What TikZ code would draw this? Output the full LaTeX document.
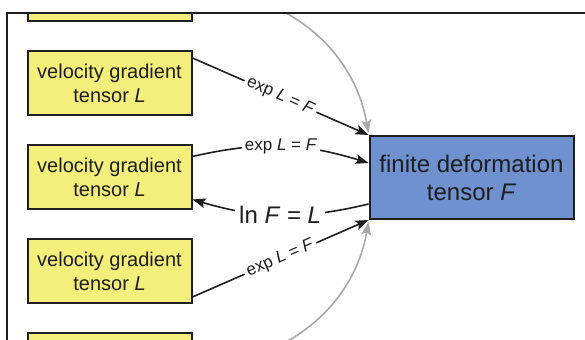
\documentclass[tikz,border=0pt]{standalone}
\usepackage{fontspec}
\setmainfont{Liberation Sans}
\usetikzlibrary{positioning,arrows.meta}

\definecolor{amarilloTensor}{RGB}{243,239,122}
\definecolor{azulTensor}{RGB}{111,145,208}
\definecolor{grisFlecha}{RGB}{168,168,168}
\definecolor{tinta}{RGB}{30,30,30}

\begin{document}
\begin{tikzpicture}[x=0.5pt, y=0.5pt, node distance=14pt, line width=0.8pt, >={Stealth[length=6.5pt,width=4.8pt,inset=1.2pt]}]
        % Definición de estilos
        \tikzstyle{nodoVelocidad} = [draw=tinta, line width=1pt, rectangle, fill=amarilloTensor, minimum width=82pt, minimum height=32pt, align=center, text=tinta, font=\fontsize{10}{12}\selectfont]
        \tikzstyle{nodoDeformacion} = [draw=tinta, line width=1pt, rectangle, fill=azulTensor, minimum width=102pt, minimum height=41.5pt, align=center, text=tinta, font=\fontsize{12}{14}\selectfont]
        \tikzstyle{etiquetaExp} = [fill=white, inner sep=1.5pt, text=tinta, font=\fontsize{8.5}{9.5}\selectfont]
        \tikzstyle{etiquetaLn} = [fill=white, inner sep=2pt, text=tinta, font=\fontsize{12}{14}\selectfont]

        \useasboundingbox (0,0) rectangle (585,340);
        \clip (0,0) rectangle (585,340);

        \begin{scope}
        \clip (8,326) rectangle (600,-60);

        % Nodos gradiente de velocidad
        \node[nodoVelocidad] (tensorVel2) at (109.5,162.5) {velocity gradient\\tensor \textit{L}};
        \node[nodoVelocidad, above=of tensorVel2] (tensorVel1) {velocity gradient\\tensor \textit{L}};
        \node[nodoVelocidad, below=of tensorVel2] (tensorVel3) {velocity gradient\\tensor \textit{L}};
        \node[nodoVelocidad, above=of tensorVel1] (tensorVelArriba) {};
        \node[nodoVelocidad, below=of tensorVel3] (tensorVelAbajo) {};

        % Nodo deformación finita
        \node[nodoDeformacion, right=88pt of tensorVel2] (tensorDef) {finite deformation\\tensor \textit{F}};

        % Aristas grises
        \draw[->, grisFlecha] (tensorVelArriba.east) to[out=0, in=100] ([yshift=1pt]tensorDef.north west);
        \draw[->, grisFlecha] (tensorVelAbajo.east) to[out=0, in=-100] ([yshift=-1pt]tensorDef.south west);

        % Aristas exp / ln
        \draw[->, tinta] ([yshift=-3.75pt]tensorVel1.north east) -- node[etiquetaExp, sloped] {exp \textit{L} = \textit{F}} (tensorDef.north west);
        \draw[->, tinta] ([yshift=-6pt]tensorVel2.north east) to[bend left=15] node[etiquetaExp] {exp \textit{L} = \textit{F}} ([yshift=-14pt]tensorDef.north west);
        \draw[->, tinta] ([yshift=8pt]tensorDef.south west) to[bend left=15] node[etiquetaLn] {ln \textit{F} = \textit{L}} ([yshift=5.5pt]tensorVel2.south east);
        \draw[->, tinta] ([yshift=3.75pt]tensorVel3.south east) -- node[etiquetaExp, sloped] {exp \textit{L} = \textit{F}} (tensorDef.south west);
        \end{scope}

        % Marco
        \draw[tinta, line width=1pt] (7,-20) -- (7,327) -- (600,327);
    \end{tikzpicture}
\end{document}
